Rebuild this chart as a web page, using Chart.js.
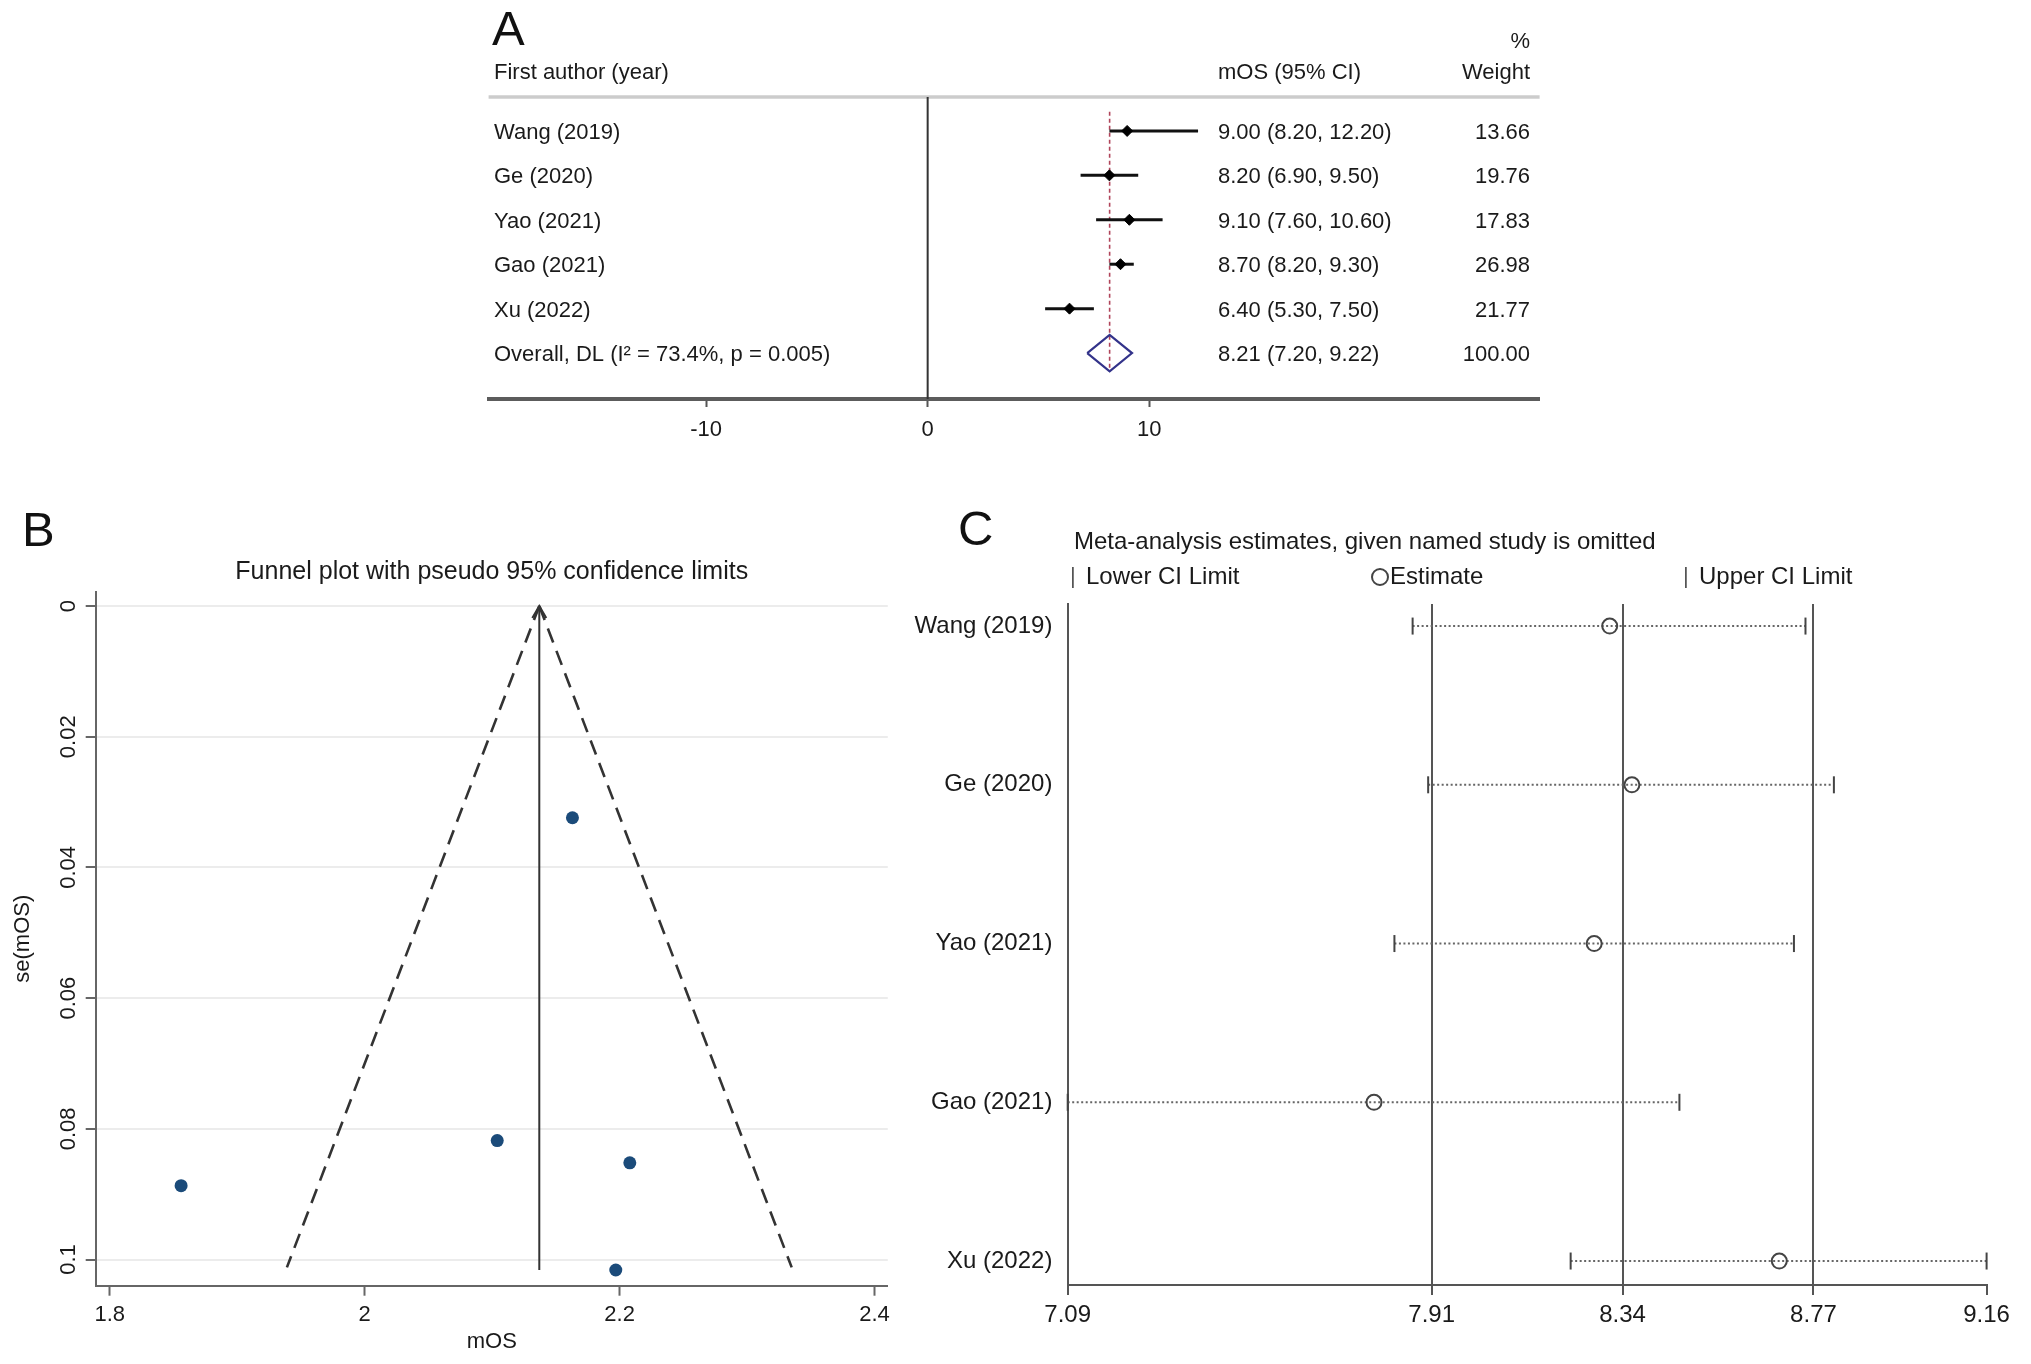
<!DOCTYPE html>
<html>
<head>
<meta charset="utf-8">
<script src="https://cdn.jsdelivr.net/npm/chart.js@4.4.1/dist/chart.umd.min.js"></script>
<style>
html,body{margin:0;padding:0;background:#fff;}
#wrap{position:relative;width:2031px;height:1364px;overflow:hidden;background:#fff;}
#wrap canvas{position:absolute;left:0;top:0;}
</style>
</head>
<body>
<div id="wrap">
<canvas id="cA" width="2031" height="1364"></canvas>
<canvas id="cB" width="2031" height="1364"></canvas>
<canvas id="cC" width="2031" height="1364"></canvas>
</div>
<script>
// ---------- DATA ----------
const studies = ['Wang (2019)', 'Ge (2020)', 'Yao (2021)', 'Gao (2021)', 'Xu (2022)'];

// Panel A: forest plot
const forestEst = [9.00, 8.20, 9.10, 8.70, 6.40];
const forestLow = [8.20, 6.90, 7.60, 8.20, 5.30];
const forestHigh = [12.20, 9.50, 10.60, 9.30, 7.50];
const forestWeight = ['13.66', '19.76', '17.83', '26.98', '21.77'];
const overallCI = [7.20, 8.21, 9.22];          // low, estimate, high
const overallWeight = '100.00';
const overallLabel = 'Overall, DL (I\u00B2 = 73.4%, p = 0.005)';
const forestTicks = [-10, 0, 10];

// Panel B: funnel plot (log mOS vs se)
const funnelX = [2.197, 2.104, 2.208, 2.163, 1.856];
const funnelSE = [0.1016, 0.0818, 0.0852, 0.0324, 0.0887];
const funnelCentre = 2.137;
const funnelCentreSE = [0, 0.1016];
const funnelLimitLowX = [2.137, 1.939];
const funnelLimitHighX = [2.137, 2.335];
const funnelLimitSE = [0, 0.1012];
const funnelXTicks = [1.8, 2, 2.2, 2.4];
const funnelYTicks = [0, 0.02, 0.04, 0.06, 0.08, 0.1];

// Panel C: leave-one-out influence analysis
const infLower = [7.867, 7.902, 7.826, 7.09, 8.223];
const infEst = [8.311, 8.361, 8.276, 7.780, 8.693];
const infUpper = [8.752, 8.816, 8.726, 8.468, 9.16];
const infRefLines = [7.91, 8.34, 8.77];
const infTicks = [7.09, 7.91, 8.34, 8.77, 9.16];

// ---------- HELPERS ----------
const FONT = "'Liberation Sans', Arial, Helvetica, sans-serif";
Chart.defaults.font.family = FONT;
Chart.defaults.color = '#1a1a1a';

function txt(ctx, s, x, y, size, align, color) {
  ctx.save();
  ctx.font = size + 'px ' + FONT;
  ctx.fillStyle = color || '#1a1a1a';
  ctx.textAlign = align || 'left';
  ctx.textBaseline = 'middle';
  ctx.fillText(s, x, y);
  ctx.restore();
}
const fixedTicks = arr => (s => { s.ticks = arr.map(v => ({ value: v })); });
const common = {
  responsive: false,
  animation: false,
  devicePixelRatio: 1,
  events: [],
  plugins: { legend: { display: false }, tooltip: { enabled: false }, title: { display: false } }
};

// ---------- PANEL A ----------
const rowsA = studies.map((_, i) => i + 1);
const overallRow = studies.length + 1;

const dsA = [];
dsA.push({
  type: 'scatter', label: 'est',
  data: forestEst.map((v, i) => ({ x: v, y: rowsA[i] })),
  pointStyle: 'rectRot', pointRadius: 5.5, backgroundColor: '#000', borderColor: '#000', borderWidth: 1,
  order: 0, clip: false
});
studies.forEach((s, i) => {
  dsA.push({
    type: 'line', label: 'ci' + i,
    data: [{ x: forestLow[i], y: rowsA[i] }, { x: forestHigh[i], y: rowsA[i] }],
    borderColor: '#111', borderWidth: 3, pointRadius: 0, order: 1, clip: false
  });
});
dsA.push({
  type: 'line', label: 'diamond',
  data: [
    { x: overallCI[0], y: overallRow },
    { x: overallCI[1], y: overallRow - 0.41 },
    { x: overallCI[2], y: overallRow },
    { x: overallCI[1], y: overallRow + 0.41 },
    { x: overallCI[0], y: overallRow }
  ],
  borderColor: '#33338a', borderWidth: 2.2, pointRadius: 0, fill: false, tension: 0, order: 1, clip: false
});
dsA.push({
  type: 'line', label: 'overallLine',
  data: [{ x: overallCI[1], y: 0.57 }, { x: overallCI[1], y: 6.41 }],
  borderColor: '#b0445a', borderWidth: 1.6, borderDash: [4, 3], pointRadius: 0, order: 2, clip: false
});
dsA.push({
  type: 'line', label: 'zero',
  data: [{ x: 0, y: 0.236 }, { x: 0, y: 7.034 }],
  borderColor: '#333', borderWidth: 2, pointRadius: 0, order: 3, clip: false
});

const pluginA = {
  id: 'pA',
  beforeDatasetsDraw(chart) {
    const { ctx, chartArea: a } = chart;
    ctx.save();
    ctx.strokeStyle = '#cccccc';
    ctx.lineWidth = 3.5;
    ctx.beginPath(); ctx.moveTo(a.left, a.top); ctx.lineTo(a.right, a.top); ctx.stroke();
    ctx.restore();
  },
  afterDraw(chart) {
    const ctx = chart.ctx, ys = chart.scales.y;
    txt(ctx, 'A', 492, 31, 49, 'left', '#111');
    txt(ctx, 'First author (year)', 494, 73, 22);
    txt(ctx, 'mOS (95% CI)', 1218, 73, 22);
    txt(ctx, '%', 1530, 42, 22, 'right');
    txt(ctx, 'Weight', 1530, 73, 22, 'right');
    studies.forEach((s, i) => {
      const y = ys.getPixelForValue(rowsA[i]) + 2;
      txt(ctx, s, 494, y, 22);
      txt(ctx, forestEst[i].toFixed(2) + ' (' + forestLow[i].toFixed(2) + ', ' + forestHigh[i].toFixed(2) + ')', 1218, y, 22);
      txt(ctx, forestWeight[i], 1530, y, 22, 'right');
    });
    const yo = ys.getPixelForValue(overallRow) + 2;
    txt(ctx, overallLabel, 494, yo, 22);
    txt(ctx, overallCI[1].toFixed(2) + ' (' + overallCI[0].toFixed(2) + ', ' + overallCI[2].toFixed(2) + ')', 1218, yo, 22);
    txt(ctx, overallWeight, 1530, yo, 22, 'right');
  }
};

new Chart(document.getElementById('cA'), {
  type: 'scatter',
  data: { datasets: dsA },
  options: Object.assign({}, common, {
    layout: { padding: { left: 488.6, right: 491.4, top: 97, bottom: 894 } },
    scales: {
      x: {
        type: 'linear', min: -19.81, max: 27.61,
        afterBuildTicks: fixedTicks(forestTicks),
        afterFit: s => { s.height = 71; },
        grid: { display: true, drawOnChartArea: false, drawTicks: true, tickLength: 8, tickColor: '#555', tickWidth: 2 },
        border: { display: true, color: '#5c5c5c', width: 4 },
        ticks: { font: { size: 22 }, color: '#1a1a1a', padding: 10, maxRotation: 0, autoSkip: false, callback: v => String(v) }
      },
      y: { type: 'linear', display: false, min: 0.236, max: 7.034, reverse: true }
    }
  }),
  plugins: [pluginA]
});

// ---------- PANEL B ----------
const dsB = [
  {
    type: 'scatter', label: 'studies',
    data: funnelX.map((v, i) => ({ x: v, y: funnelSE[i] })),
    pointRadius: 6.5, backgroundColor: '#1b4b7a', borderColor: '#1b4b7a', borderWidth: 0, order: 0, clip: false
  },
  {
    type: 'line', label: 'centre',
    data: funnelCentreSE.map(v => ({ x: funnelCentre, y: v })),
    borderColor: '#333', borderWidth: 2, pointRadius: 0, order: 1, clip: false
  },
  {
    type: 'line', label: 'lowLimit',
    data: funnelLimitSE.map((v, i) => ({ x: funnelLimitLowX[i], y: v })),
    borderColor: '#333', borderWidth: 2.6, borderDash: [15, 9], pointRadius: 0, order: 2, clip: false
  },
  {
    type: 'line', label: 'highLimit',
    data: funnelLimitSE.map((v, i) => ({ x: funnelLimitHighX[i], y: v })),
    borderColor: '#333', borderWidth: 2.6, borderDash: [15, 9], pointRadius: 0, order: 2, clip: false
  }
];

const pluginB = {
  id: 'pB',
  afterDatasetsDraw(chart) {
    const { ctx } = chart;
    const px = chart.scales.x.getPixelForValue(funnelCentre);
    const py = chart.scales.y.getPixelForValue(funnelCentreSE[0]);
    ctx.save();
    ctx.strokeStyle = '#333'; ctx.lineWidth = 2;
    ctx.beginPath();
    ctx.moveTo(px - 7, py + 12); ctx.lineTo(px, py); ctx.lineTo(px + 7, py + 12);
    ctx.stroke();
    ctx.restore();
  },
  afterDraw(chart) {
    const ctx = chart.ctx, a = chart.chartArea;
    txt(ctx, 'B', 22, 532, 49, 'left', '#111');
    txt(ctx, 'Funnel plot with pseudo 95% confidence limits', (a.left + a.right) / 2, 572, 25, 'center');
  }
};

new Chart(document.getElementById('cB'), {
  type: 'scatter',
  data: { datasets: dsB },
  options: Object.assign({}, common, {
    layout: { padding: { left: 5.8, right: 1143.2, top: 591.7, bottom: 4.8 } },
    scales: {
      x: {
        type: 'linear', min: 1.789, max: 2.4104,
        afterBuildTicks: fixedTicks(funnelXTicks),
        afterFit: s => { s.height = 73.5; },
        grid: { display: true, drawOnChartArea: false, tickLength: 10, tickColor: '#666', tickWidth: 2 },
        border: { display: true, color: '#666', width: 2 },
        ticks: { font: { size: 22 }, color: '#1a1a1a', padding: 6, maxRotation: 0, autoSkip: false, callback: v => String(v) },
        title: { display: true, text: 'mOS', font: { size: 22 }, color: '#1a1a1a', padding: { top: 0, bottom: 4 } }
      },
      y: {
        type: 'linear', min: -0.00219, max: 0.104, reverse: true,
        afterBuildTicks: fixedTicks(funnelYTicks),
        afterFit: s => { s.width = 89.9; },
        grid: { display: true, drawOnChartArea: true, color: '#ececec', lineWidth: 2, tickLength: 10, tickColor: '#666', tickWidth: 2 },
        border: { display: true, color: '#666', width: 2 },
        ticks: { font: { size: 22 }, color: '#1a1a1a', padding: -5, minRotation: 90, maxRotation: 90, crossAlign: 'center', autoSkip: false, callback: v => String(v) },
        title: { display: true, text: 'se(mOS)', font: { size: 22 }, color: '#1a1a1a', padding: { top: 4, bottom: 4 } }
      }
    }
  }),
  plugins: [pluginB]
});

// ---------- PANEL C ----------
const rowsC = studies.map((_, i) => i);
const dsC = [
  {
    type: 'scatter', label: 'estimate',
    data: infEst.map((v, i) => ({ x: v, y: rowsC[i] })),
    pointStyle: 'circle', pointRadius: 7.5, backgroundColor: 'rgba(255,255,255,0)', borderColor: '#444', borderWidth: 2,
    order: 0, clip: false
  },
  {
    type: 'scatter', label: 'lowerCap',
    data: infLower.map((v, i) => ({ x: v, y: rowsC[i] })),
    pointStyle: 'line', pointRotation: 90, pointRadius: 8.5, borderColor: '#444', borderWidth: 2,
    order: 0, clip: false
  },
  {
    type: 'scatter', label: 'upperCap',
    data: infUpper.map((v, i) => ({ x: v, y: rowsC[i] })),
    pointStyle: 'line', pointRotation: 90, pointRadius: 8.5, borderColor: '#444', borderWidth: 2,
    order: 0, clip: false
  }
];
studies.forEach((s, i) => {
  dsC.push({
    type: 'line', label: 'range' + i,
    data: [{ x: infLower[i], y: rowsC[i] }, { x: infUpper[i], y: rowsC[i] }],
    borderColor: '#666', borderWidth: 2, borderDash: [2, 2.5], pointRadius: 0, order: 1, clip: false
  });
});

const pluginC = {
  id: 'pC',
  afterDraw(chart) {
    const ctx = chart.ctx;
    txt(ctx, 'C', 958, 531, 49, 'left', '#111');
    txt(ctx, 'Meta-analysis estimates, given named study is omitted', 1074, 542, 24);
    // legend
    txt(ctx, '|', 1070, 577, 22, 'left', '#555');
    txt(ctx, 'Lower CI Limit', 1086, 577, 24);
    ctx.save();
    ctx.strokeStyle = '#444'; ctx.lineWidth = 2;
    ctx.beginPath(); ctx.arc(1380, 577, 8, 0, Math.PI * 2); ctx.stroke();
    ctx.restore();
    txt(ctx, 'Estimate', 1390, 577, 24);
    txt(ctx, '|', 1683, 577, 22, 'left', '#555');
    txt(ctx, 'Upper CI Limit', 1699, 577, 24);
  }
};

new Chart(document.getElementById('cC'), {
  type: 'scatter',
  data: { datasets: dsC },
  options: Object.assign({}, common, {
    layout: { padding: { left: 767.7, right: 44.4, top: 604, bottom: 19 } },
    scales: {
      x: {
        type: 'linear', min: 7.09, max: 9.16,
        afterBuildTicks: fixedTicks(infTicks),
        afterFit: s => { s.height = 60; },
        grid: {
          display: true, drawOnChartArea: true, lineWidth: 2,
          color: c => (c.tick && infRefLines.includes(c.tick.value)) ? '#555' : 'rgba(0,0,0,0)',
          tickLength: 10, tickColor: '#555', tickWidth: 2
        },
        border: { display: true, color: '#555', width: 2 },
        ticks: { font: { size: 24 }, color: '#1a1a1a', padding: 5.6, maxRotation: 0, autoSkip: false, callback: v => String(v) }
      },
      y: {
        type: 'linear', min: -0.139, max: 4.151, reverse: true,
        afterBuildTicks: fixedTicks(rowsC),
        afterFit: s => { s.width = 300; },
        grid: { display: false, drawTicks: false },
        border: { display: true, color: '#555', width: 2 },
        ticks: { font: { size: 24 }, color: '#1a1a1a', padding: 15.3, autoSkip: false, callback: v => studies[v] }
      }
    }
  }),
  plugins: [pluginC]
});
</script>
</body>
</html>
